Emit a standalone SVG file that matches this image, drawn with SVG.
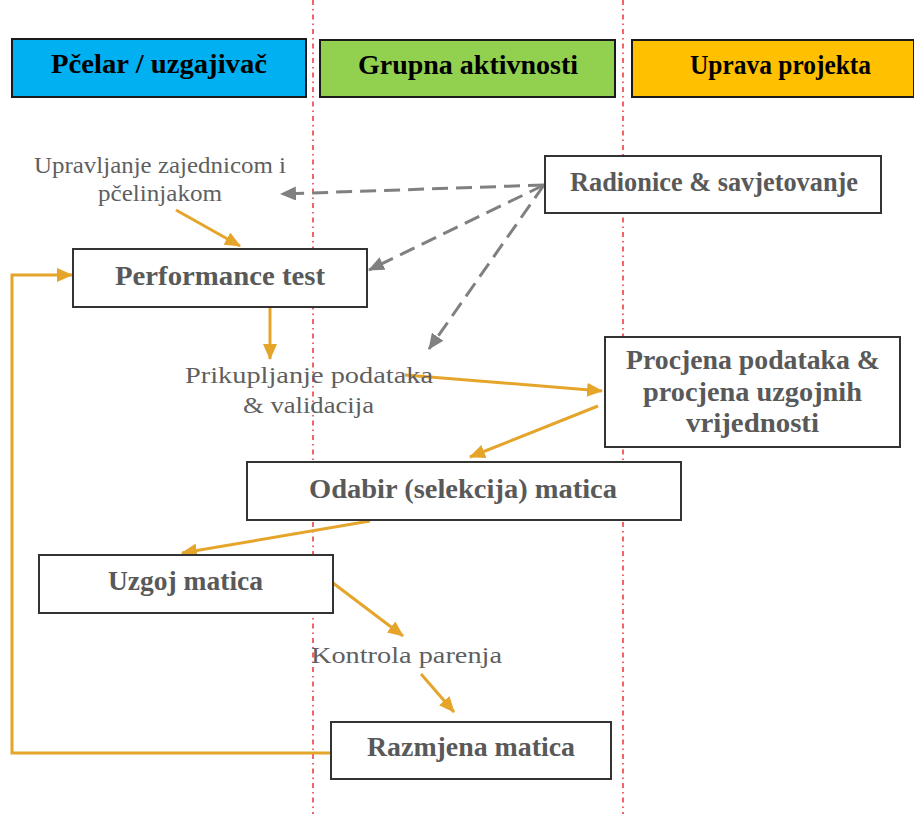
<svg xmlns="http://www.w3.org/2000/svg" width="914" height="814" viewBox="0 0 914 814">
<style>
  .hdr { stroke: #1a1a1a; stroke-width: 2; }
  .hdrtxt { font-family: "Liberation Serif", "DejaVu Serif", serif; font-weight: bold; font-size: 27px; fill: #000; text-anchor: middle; }
  .box { fill: #fff; stroke: #333; stroke-width: 2; }
  .boxtxt { font-family: "Liberation Serif", "DejaVu Serif", serif; font-weight: bold; font-size: 27px; fill: #595959; text-anchor: middle; }
  .lbl { font-family: "Liberation Serif", "DejaVu Serif", serif; font-size: 24px; fill: #5f5f5f; text-anchor: middle; }
  .lane { stroke: #ee1111; stroke-width: 1.3; stroke-dasharray: 5 4 1.5 4; fill: none; }
  .org { stroke: #E5A52A; stroke-width: 3; fill: none; marker-end: url(#ao); }
  .gry { stroke: #808080; stroke-width: 3; fill: none; stroke-dasharray: 16 8; marker-end: url(#ag); }
</style>
<defs>
  <marker id="ao" markerUnits="userSpaceOnUse" markerWidth="16" markerHeight="14" refX="15" refY="7" orient="auto">
    <path d="M0,0 L16,7 L0,14 Z" fill="#E5A52A"/>
  </marker>
  <marker id="ag" markerUnits="userSpaceOnUse" markerWidth="16" markerHeight="14" refX="15" refY="7" orient="auto">
    <path d="M0,0 L16,7 L0,14 Z" fill="#808080"/>
  </marker>
</defs>
<rect width="914" height="814" fill="#fff"/>

<g id="lanes">
  <line class="lane" x1="313" y1="0" x2="313" y2="814"/>
  <line class="lane" x1="623" y1="0" x2="623" y2="814"/>
</g>

<g id="hdr-pcelar">
  <rect class="hdr" x="12" y="39" width="294" height="58" fill="#00B0F0"/>
  <text class="hdrtxt" x="159" y="73" textLength="216" lengthAdjust="spacingAndGlyphs">Pčelar / uzgajivač</text>
</g>
<g id="hdr-grupna">
  <rect class="hdr" x="320" y="40" width="295" height="57" fill="#92D050"/>
  <text class="hdrtxt" x="468" y="74" textLength="220" lengthAdjust="spacingAndGlyphs">Grupna aktivnosti</text>
</g>
<g id="hdr-uprava">
  <rect class="hdr" x="632" y="40" width="282" height="57" fill="#FFC000"/>
  <text class="hdrtxt" x="780.5" y="74" textLength="181" lengthAdjust="spacingAndGlyphs">Uprava projekta</text>
</g>

<g id="connectors">
  <line class="gry" x1="544" y1="185" x2="281" y2="194"/>
  <line class="gry" x1="544" y1="185" x2="369" y2="270"/>
  <line class="gry" x1="544" y1="185" x2="429" y2="349"/>
  <line class="org" x1="176" y1="210" x2="240" y2="246"/>
  <path class="org" d="M331,753 H12 V275 H72"/>
  <line class="org" x1="270" y1="307" x2="270" y2="359"/>
  <line class="org" x1="405" y1="375" x2="602" y2="391"/>
  <line class="org" x1="598" y1="406" x2="470" y2="457"/>
  <line class="org" x1="370" y1="521" x2="182" y2="553"/>
  <line class="org" x1="333" y1="583" x2="403" y2="636"/>
  <line class="org" x1="421" y1="674" x2="454" y2="712"/>
</g>

<g id="lbl-upravljanje">
  <text class="lbl" x="160" y="173" textLength="252" lengthAdjust="spacingAndGlyphs">Upravljanje zajednicom i</text>
  <text class="lbl" x="160" y="201" textLength="124" lengthAdjust="spacingAndGlyphs">pčelinjakom</text>
</g>

<g id="node-radionice">
  <rect class="box" x="545" y="156" width="336" height="57"/>
  <text class="boxtxt" x="714" y="191" textLength="288" lengthAdjust="spacingAndGlyphs">Radionice &amp; savjetovanje</text>
</g>

<g id="node-performance">
  <rect class="box" x="73" y="249" width="294" height="58"/>
  <text class="boxtxt" x="220" y="285" textLength="210" lengthAdjust="spacingAndGlyphs">Performance test</text>
</g>

<g id="lbl-prikupljanje">
  <text class="lbl" x="309" y="383" textLength="248" lengthAdjust="spacingAndGlyphs">Prikupljanje podataka</text>
  <text class="lbl" x="308.5" y="413" textLength="131" lengthAdjust="spacingAndGlyphs">&amp; validacija</text>
</g>

<g id="node-procjena">
  <rect class="box" x="605" y="337" width="295" height="110"/>
  <text class="boxtxt" x="753" y="369" textLength="254" lengthAdjust="spacingAndGlyphs">Procjena podataka &amp;</text>
  <text class="boxtxt" x="752.5" y="401" textLength="219" lengthAdjust="spacingAndGlyphs">procjena uzgojnih</text>
  <text class="boxtxt" x="752.5" y="432" textLength="133" lengthAdjust="spacingAndGlyphs">vrijednosti</text>
</g>

<g id="node-odabir">
  <rect class="box" x="247" y="462" width="434" height="58"/>
  <text class="boxtxt" x="463" y="498" textLength="308" lengthAdjust="spacingAndGlyphs">Odabir (selekcija) matica</text>
</g>

<g id="node-uzgoj">
  <rect class="box" x="39" y="555" width="294" height="58"/>
  <text class="boxtxt" x="185.5" y="590" textLength="155" lengthAdjust="spacingAndGlyphs">Uzgoj matica</text>
</g>

<g id="lbl-kontrola">
  <text class="lbl" x="406.5" y="663" textLength="191" lengthAdjust="spacingAndGlyphs">Kontrola parenja</text>
</g>

<g id="node-razmjena">
  <rect class="box" x="331" y="722" width="280" height="57"/>
  <text class="boxtxt" x="471" y="756" textLength="208" lengthAdjust="spacingAndGlyphs">Razmjena matica</text>
</g>
</svg>
